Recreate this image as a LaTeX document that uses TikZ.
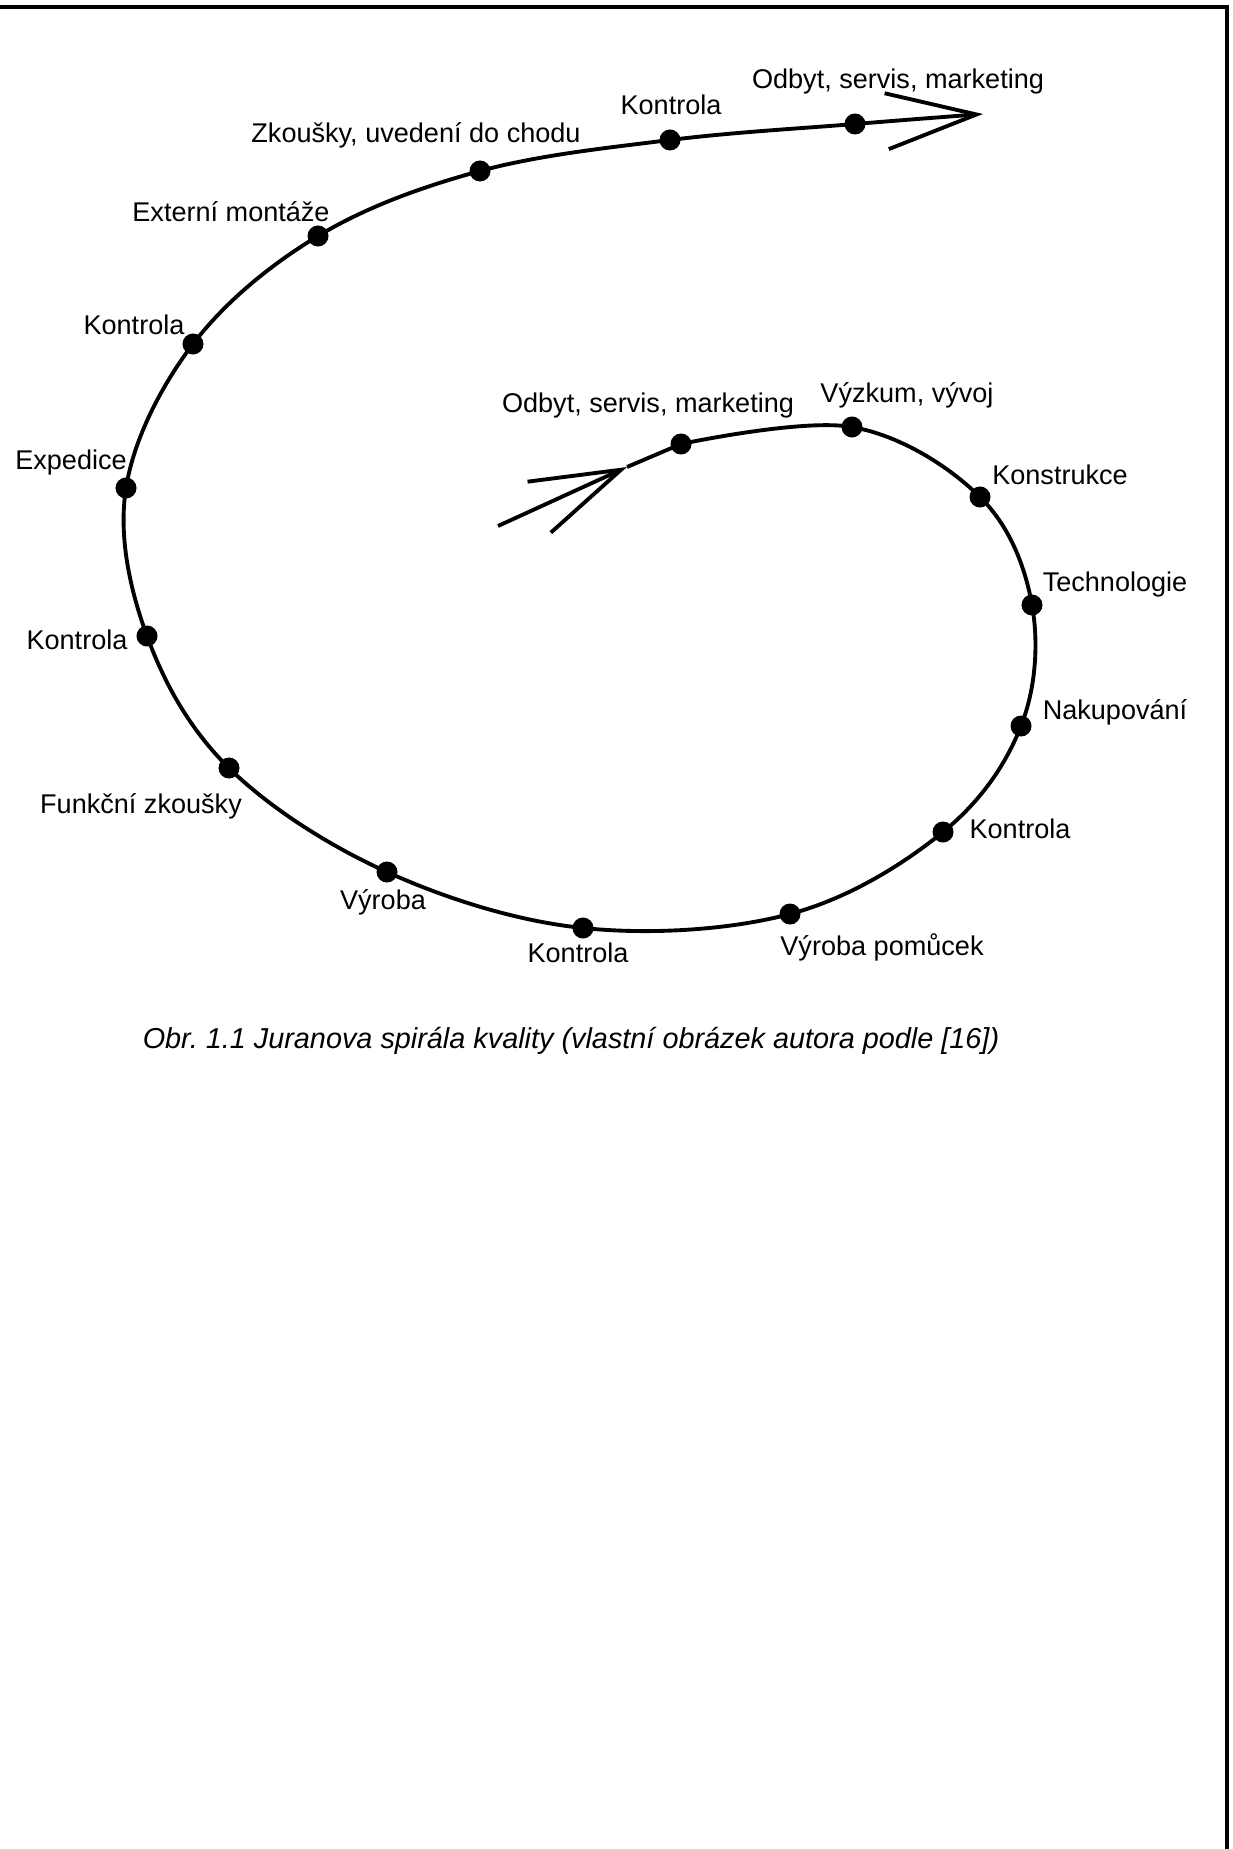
\documentclass[tikz,border=0pt]{standalone}
\usepackage{fontspec}
\setmainfont{Liberation Sans}
\usetikzlibrary{arrows.meta}

\begin{document}
\begin{tikzpicture}[x=0.01cm, y=-0.01cm,
  dot/.style={circle, fill, inner sep=0pt, minimum size=0.21cm},
  lbl/.style={inner sep=0pt, font=\fontsize{7.7}{9}\selectfont},
  spiral/.style={line width=1.1pt},
  barb/.style={-{Straight Barb[length=0.9cm, width=0.56cm, line width=1.1pt]}}]
\useasboundingbox (0,0) rectangle (1232,1849);
\draw [line width=1.1pt] (0,7) -- (1227,7) -- (1227,1849);

\coordinate (s0) at (498,526);
\coordinate (s1) at (627,467);
\coordinate (s2) at (983,114);

\draw (855,124) node[dot] (p1) {};
\draw (670,140) node[dot] (p2) {};
\draw (480,171) node[dot] (p3) {};
\draw (318,236) node[dot] (p4) {};
\draw (193,344) node[dot] (p5) {};
\draw (126,488) node[dot] (p6) {};
\draw (147,636) node[dot] (p7) {};
\draw (229,768) node[dot] (p8) {};
\draw (387,872) node[dot] (p9) {};
\draw (583,928) node[dot] (p10) {};
\draw (790,914) node[dot] (p11) {};
\draw (943,832) node[dot] (p12) {};
\draw (1021,726) node[dot] (p13) {};
\draw (1032,605) node[dot] (p14) {};
\draw (980,497) node[dot] (p15) {};
\draw (852,427) node[dot] (p16) {};
\draw (681,444) node[dot] (p17) {};

\draw [spiral, barb] (s0) -- (s1);
\draw [spiral] (s1) -- (p17.center);
\draw [spiral, barb] plot [smooth, tension=0.6] coordinates {(p17.center)
  (p16.center) (p15.center) (p14.center) (p13.center) (p12.center) (p11.center)
  (p10.center) (p9.center) (p8.center) (p7.center) (p6.center) (p5.center)
  (p4.center) (p3.center) (p2.center) (p1.center) (s2)};

\draw (898,82) node[lbl] (t1) {Odbyt, servis, marketing};
\draw (671,105) node[lbl] (t2) {Kontrola};
\draw (416,135) node[lbl] (t3) {Zkoušky, uvedení do chodu};
\draw (231,212) node[lbl] (t4) {Externí montáže};
\draw (134,325) node[lbl] (t5) {Kontrola};
\draw (71,462) node[lbl] (t6) {Expedice};
\draw (77,640) node[lbl] (t7) {Kontrola};
\draw (141,806) node[lbl] (t8) {Funkční zkoušky};
\draw (383,902) node[lbl] (t9) {Výroba};
\draw (578,953) node[lbl] (t10) {Kontrola};
\draw (882,947) node[lbl] (t11) {Výroba pomůcek};
\draw (1020,829) node[lbl] (t12) {Kontrola};
\draw (1115,712) node[lbl] (t13) {Nakupování};
\draw (1115,584) node[lbl] (t14) {Technologie};
\draw (1060,475) node[lbl] (t15) {Konstrukce};
\draw (907,395) node[lbl] (t16) {Výzkum, vývoj};
\draw (648,405) node[lbl] (t17) {Odbyt, servis, marketing};

\draw (571,1041) node[inner sep=0pt, font=\fontsize{8.2}{10}\selectfont\itshape] (cap)
  {Obr.\ 1.1 Juranova spirála kvality (vlastní obrázek autora podle [16])};
\end{tikzpicture}
\end{document}
